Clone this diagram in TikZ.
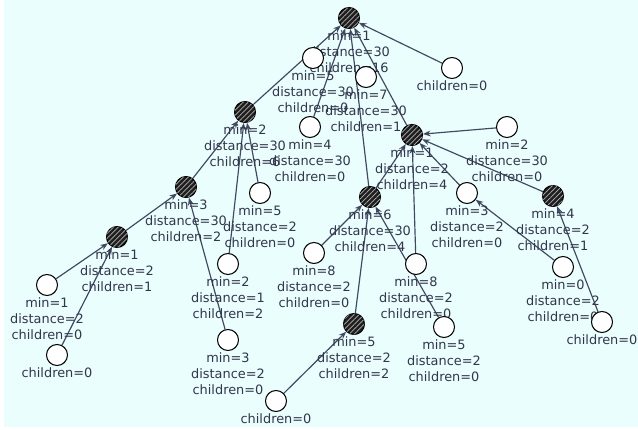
\documentclass[tikz,border=0pt]{standalone}
\usepackage{fontspec}
\setmainfont{DejaVu Sans}
\usetikzlibrary{arrows.meta, patterns.meta, backgrounds}
\definecolor{paper}{RGB}{234,254,254}
\definecolor{edgecol}{RGB}{66,72,96}
\definecolor{textcol}{RGB}{50,54,74}
\tikzstyle{ring} = [circle, 
minimum size=0.63cm, 
inner sep=0pt, 
draw=black, 
line width=0.9pt, 
fill=white]
\tikzstyle{hatched} = [ring, 
fill=black!88, 
postaction={pattern={Lines[angle=45, distance=3pt, line width=0.6pt]}, pattern color=white!70!black}]
\tikzstyle{info} = [align=center, 
text=textcol, 
font=\fontsize{11}{13.6}\selectfont, 
inner sep=0pt, 
label distance=1.2pt]
\tikzstyle{arrow} = [draw=edgecol, line width=1pt, ->, >={Stealth[length=6.5pt, width=5pt]}]

\begin{document}
\begin{tikzpicture}[x=0.03cm, y=-0.03cm]

\useasboundingbox (0,0) rectangle (638,430);
\begin{pgfonlayer}{background}
\fill [paper] (4,0) rectangle (638,427);
\end{pgfonlayer}

% upper part
\node (hat1) [hatched, label={[info]below:min=1\\distance=30\\children=16}] at (349,18) {};
\node (ring1) [ring, label={[info]below:min=5\\distance=30\\children=0}] at (313,58) {};
\node (ring2) [ring, label={[info]below:min=7\\distance=30\\children=1}] at (366,77) {};
\node (ring3) [ring, label={[info]below:children=0}] at (452,68) {};
\node (hat2) [hatched, label={[info]below:min=2\\distance=30\\children=6}] at (245,112) {};
\node (ring4) [ring, label={[info]below:min=4\\distance=30\\children=0}] at (310,127) {};
\node (ring5) [ring, label={[info]below:min=5\\distance=2\\children=0}] at (260,193) {};

% left branch
\node (hat3) [hatched, label={[info]below:min=3\\distance=30\\children=2}] at (186,187) {};
\node (hat4) [hatched, label={[info]below:min=1\\distance=2\\children=1}] at (117,237) {};
\node (ring6) [ring, label={[info]below:min=1\\distance=2\\children=0}] at (47,285) {};
\node (ring7) [ring, label={[info]below:children=0}] at (57,355) {};
\node (ring8) [ring, label={[info]below:min=2\\distance=1\\children=2}] at (228,264) {};
\node (ring9) [ring, label={[info]below:min=3\\distance=2\\children=0}] at (228,340) {};
\node (ring10) [ring, label={[info]below:children=0}] at (276,401) {};

% right branch
\node (hat5) [hatched, label={[info]below:min=1\\distance=2\\children=4}] at (412,135) {};
\node (ring11) [ring, label={[info]below:min=2\\distance=30\\children=0}] at (507,127) {};
\node (hat6) [hatched, label={[info]below:min=6\\distance=30\\children=4}] at (370,197) {};
\node (ring12) [ring, label={[info]below:min=3\\distance=2\\children=0}] at (467,193) {};
\node (hat7) [hatched, label={[info]below:min=4\\distance=2\\children=1}] at (553,196) {};
\node (ring13) [ring, label={[info]below:min=8\\distance=2\\children=0}] at (314,253) {};
\node (ring14) [ring, label={[info]below:min=8\\distance=2\\children=0}] at (416,264) {};
\node (hat8) [hatched, label={[info]below:min=5\\distance=2\\children=2}] at (354,324) {};
\node (ring15) [ring, label={[info]below:min=5\\distance=2\\children=0}] at (444,327) {};
\node (ring16) [ring, label={[info]below:min=0\\distance=2\\children=0}] at (563,267) {};
\node (ring17) [ring, label={[info]below:children=0}] at (602,322) {};

\begin{pgfonlayer}{background}
\draw [arrow] (hat2) -- (hat1);
\draw [arrow] (ring4) -- (hat1);
\draw [arrow] (hat6) -- (hat1);
\draw [arrow] (hat5) -- (hat1);
\draw [arrow] (ring3) -- (hat1);

\draw [arrow] (hat3) -- (hat2);
\draw [arrow] (ring5) -- (hat2);
\draw [arrow] (ring8) -- (hat2);
\draw [arrow] (hat4) -- (hat3);
\draw [arrow] (ring9) -- (hat3);
\draw [arrow] (ring6) -- (hat4);
\draw [arrow] (ring7) -- (hat4);

\draw [arrow] (hat6) -- (hat5);
\draw [arrow] (ring12) -- (hat5);
\draw [arrow] (ring11) -- (hat5);
\draw [arrow] (hat7) -- (hat5);
\draw [arrow] (ring14) -- (hat5);
\draw [arrow] (ring13) -- (hat6);
\draw [arrow] (hat8) -- (hat6);
\draw [arrow] (ring15) -- (hat6);
\draw [arrow] (ring10) -- (hat8);
\draw [arrow] (ring16) -- (ring12);
\draw [arrow] (ring17) -- (hat7);
\end{pgfonlayer}

\end{tikzpicture}
\end{document}
